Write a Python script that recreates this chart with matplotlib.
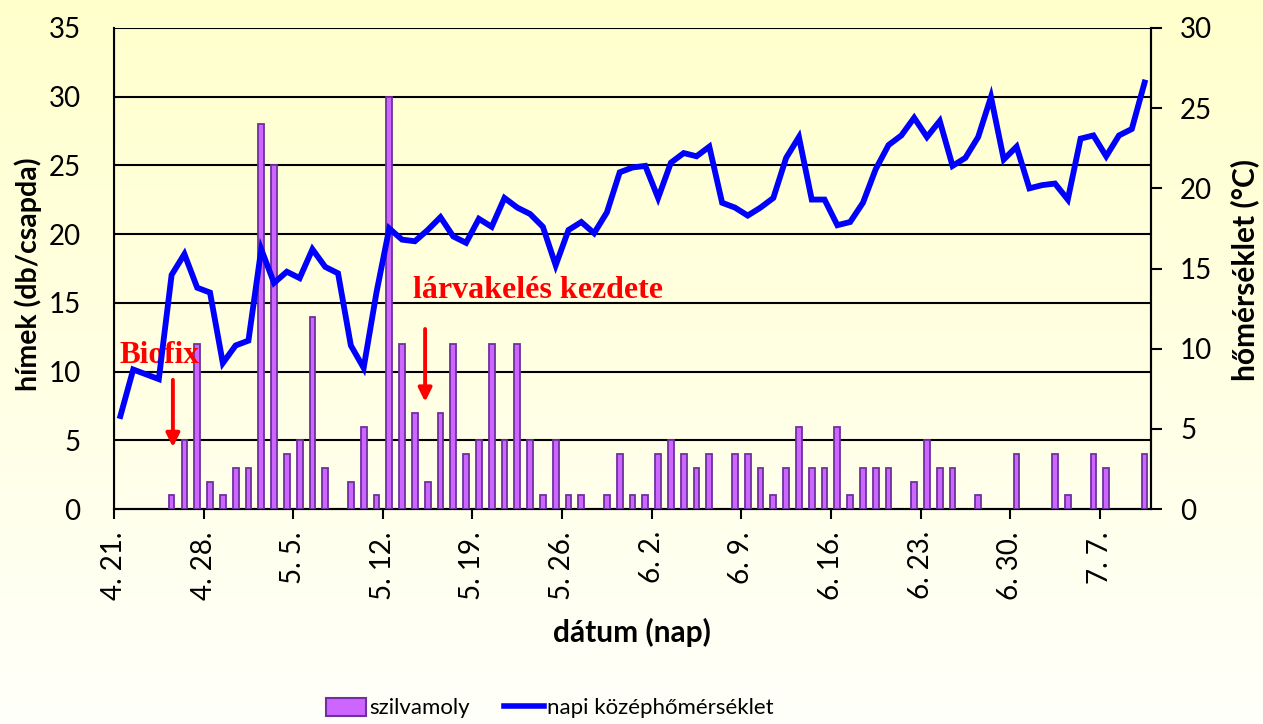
import numpy as np
import matplotlib
matplotlib.use("Agg")
import matplotlib.pyplot as plt
from matplotlib.patches import Patch
from matplotlib.lines import Line2D

# daily counts (szilvamoly), 4.21. .. 7.10.
moths = [0, 0, 0, 0, 1, 5, 12, 2, 1, 3, 3, 28, 25, 4, 5, 14, 3, 0, 2, 6,
         1, 30, 12, 7, 2, 7, 12, 4, 5, 12, 5, 12, 5, 1, 5, 1, 1, 0, 1, 4,
         1, 1, 4, 5, 4, 3, 4, 0, 4, 4, 3, 1, 3, 6, 3, 3, 6, 1, 3, 3,
         3, 0, 2, 5, 3, 3, 0, 1, 0, 0, 4, 0, 0, 4, 1, 0, 4, 3, 0, 0, 4]

# daily mean temperature (C)
temps = [5.8, 8.7, 8.4, 8.1, 14.6, 15.9, 13.8, 13.5, 9.1, 10.2,
         10.5, 16.2, 14.1, 14.8, 14.4, 16.2, 15.1, 14.7, 10.2, 8.8,
         13.5, 17.5, 16.8, 16.7, 17.4, 18.2, 17.0, 16.6, 18.1, 17.6,
         19.4, 18.8, 18.4, 17.6, 15.2, 17.4, 17.9, 17.2, 18.5, 21.0,
         21.3, 21.4, 19.4, 21.6, 22.2, 22.0, 22.6, 19.1, 18.8, 18.3,
         18.8, 19.4, 21.9, 23.2, 19.3, 19.3, 17.7, 17.9, 19.1, 21.2,
         22.7, 23.3, 24.4, 23.2, 24.2, 21.4, 21.9, 23.2, 25.7, 21.8,
         22.6, 20.0, 20.2, 20.3, 19.3, 23.1, 23.3, 22.0, 23.3, 23.7, 26.6]

tick_labels = ["4. 21.", "4. 28.", "5. 5.", "5. 12.", "5. 19.", "5. 26.",
               "6. 2.", "6. 9.", "6. 16.", "6. 23.", "6. 30.", "7. 7."]

plt.rcParams['font.family'] = ['Lato', 'DejaVu Sans']

W, H = 1263, 724
fig = plt.figure(figsize=(W / 100, H / 100), dpi=100)

# background gradient
bg = fig.add_axes([0, 0, 1, 1], zorder=-10)
grad = np.linspace(0, 1, 256).reshape(-1, 1)
cmap = matplotlib.colors.LinearSegmentedColormap.from_list(
    "bg", ["#FFFFCC", "#FFFFFA"])
bg.imshow(grad, aspect="auto", cmap=cmap, extent=[0, 1, 0, 1])
bg.axis("off")

x0, x1, y0, y1 = 114, 1151, 509, 28
ax = fig.add_axes([x0 / W, (H - y0) / H, (x1 - x0) / W, (y0 - y1) / H])
ax.patch.set_alpha(0)

x = np.arange(len(moths)) + 0.5
edge_w = [1.3 if m > 0 else 0 for m in moths]
ax.bar(x, moths, width=0.45, color="#CC66FF", edgecolor="#7030A0",
       linewidth=edge_w, zorder=3)
ax.set_xlim(0, len(moths))
ax.set_ylim(0, 35)
ax.set_yticks(range(0, 36, 5))
ax.yaxis.grid(True, color="black", linewidth=1.5, zorder=0)
ax.set_axisbelow(True)
ax.set_xticks(range(0, 7 * len(tick_labels), 7))
ax.set_xticklabels(tick_labels, rotation=90, va="top", ha="center")
ax.tick_params(axis="x", length=7, width=1.5, direction="out", pad=9,
               labelsize=20, colors="black")
ax.tick_params(axis="y", length=0, pad=24, labelsize=20)
ax.spines["top"].set_visible(False)
for s in ["left", "bottom", "right"]:
    ax.spines[s].set_linewidth(1.5)

ax2 = ax.twinx()
ax2.plot(x, temps, color="#0000FF", linewidth=4.2, solid_joinstyle="miter",
         zorder=5)
ax2.set_ylim(0, 30)
ax2.set_yticks(range(0, 31, 5))
ax2.tick_params(axis="y", length=8, width=1.5, direction="out", pad=13,
                labelsize=20)
ax2.spines["top"].set_visible(False)
ax2.spines["right"].set_linewidth(1.5)

# annotations
ax.text(0.45, 11.2, "Biofix", color="red", fontsize=22.5, fontweight="bold",
        family="Liberation Serif", va="center", ha="left", zorder=6)
ax.annotate("", xy=(4.6, 4.3), xytext=(4.6, 9.6),
            arrowprops=dict(arrowstyle="-|>", color="red", lw=2.8,
                            mutation_scale=20), zorder=6)
ax.text(23.35, 15.9, "lárvakelés kezdete", color="red", fontsize=23,
        fontweight="bold", family="Liberation Serif", va="center",
        ha="left", zorder=6)
ax.annotate("", xy=(24.3, 7.6), xytext=(24.3, 13.3),
            arrowprops=dict(arrowstyle="-|>", color="red", lw=2.8,
                            mutation_scale=20), zorder=6)

fig.text(28 / W, 1 - 274 / H, "hímek (db/csapda)", rotation=90,
         fontsize=20.5, fontweight="bold", ha="center", va="center")
fig.text(1245 / W, 1 - 270 / H, "hőmérséklet (°C)", rotation=90,
         fontsize=21.5, fontweight="bold", ha="center", va="center")
fig.text(632 / W, 1 - 632 / H, "dátum (nap)", fontsize=21.5,
         fontweight="bold", ha="center", va="center")

handles = [Patch(facecolor="#CC66FF", edgecolor="#7030A0", linewidth=1.5),
           Line2D([0], [0], color="#0000FF", linewidth=4)]
fig.legend(handles, ["szilvamoly", "napi középhőmérséklet"], ncol=2,
           loc="center", bbox_to_anchor=(550 / W, 1 - 708 / H),
           frameon=False, fontsize=16, handlelength=1.8, handletextpad=0.15,
           columnspacing=1.5, handleheight=0.9)

fig.savefig("out.png", dpi=100)
